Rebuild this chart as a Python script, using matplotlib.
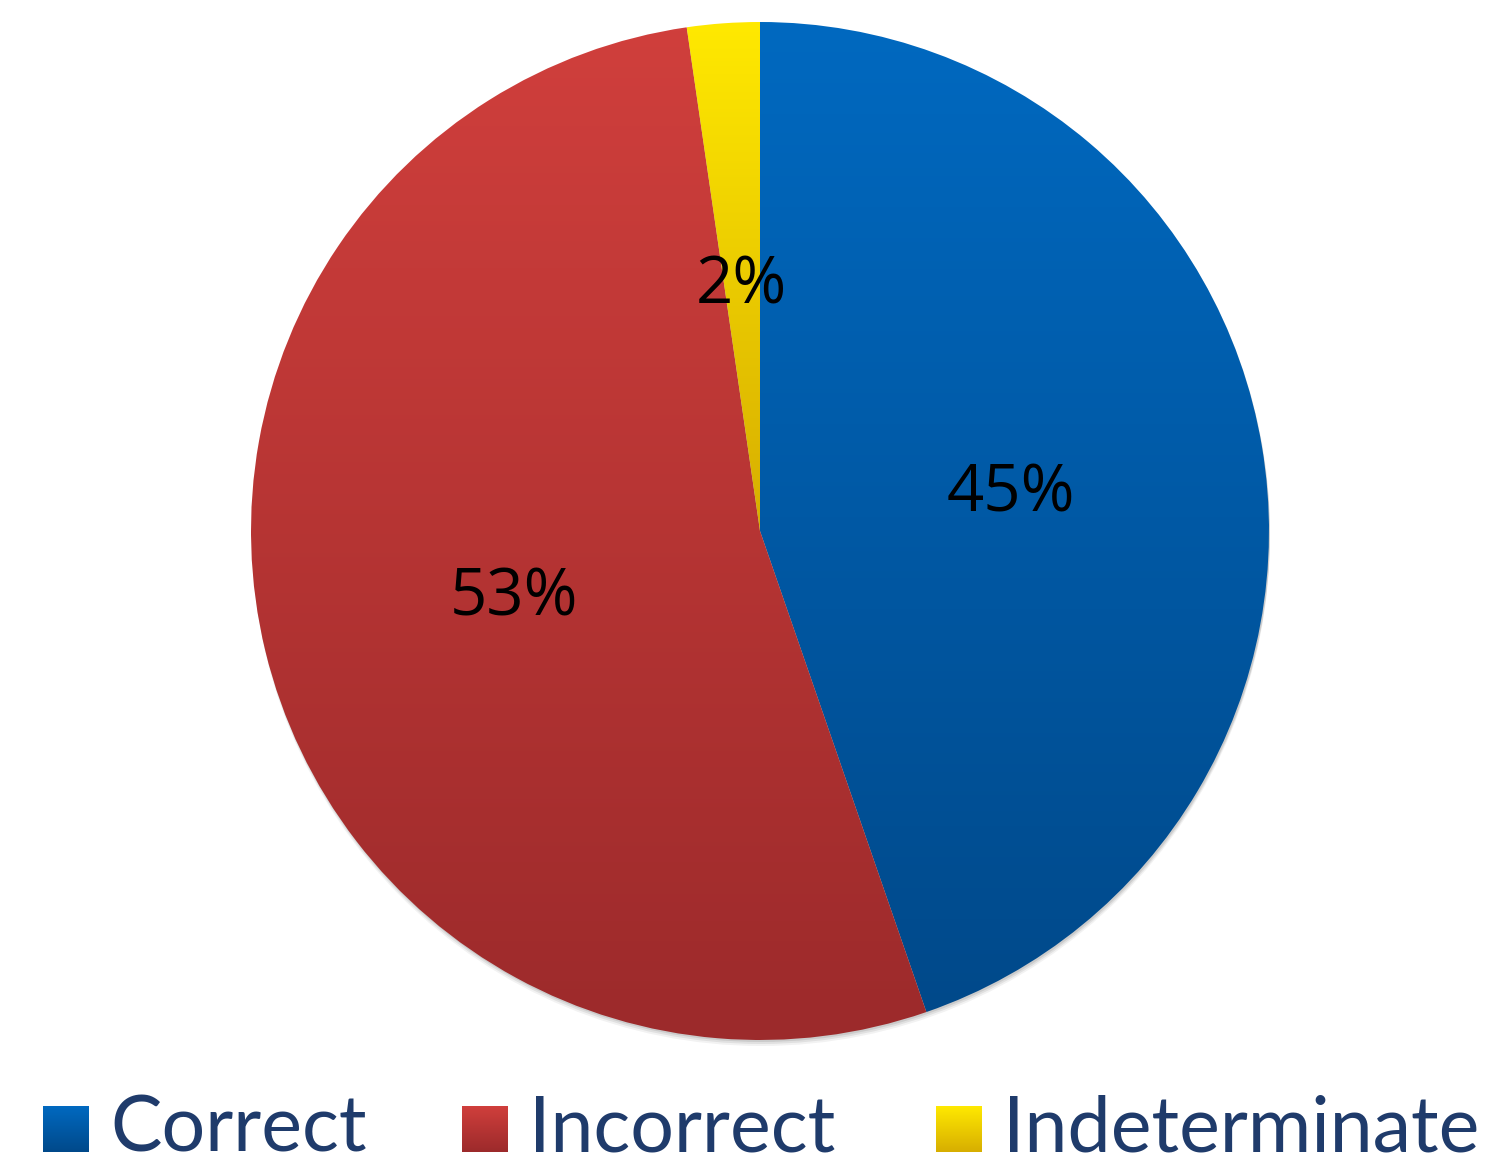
import numpy as np
import matplotlib.pyplot as plt
from matplotlib.colors import LinearSegmentedColormap
from matplotlib.patches import Circle, Rectangle

labels = ['Correct', 'Incorrect', 'Indeterminate']
shares = [44.7, 53.0, 2.3]
pct_text = ['45%', '53%', '2%']
top_colors = ['#0069C0', '#D03F3C', '#FFE900']
bottom_colors = ['#00498A', '#9C2A2B', '#D7AE00']

W, H = 1507, 1166
fig = plt.figure(figsize=(W / 100, H / 100), dpi=100)
ax = fig.add_axes([0, 0, 1, 1])

cx, cy, r = 760, H - 531, 509

# soft shadow under the pie
for k, a in [(6, 0.05), (4, 0.07), (2, 0.09)]:
    ax.add_patch(Circle((cx + 1, cy - k), r, color='#000000', alpha=a, lw=0, zorder=0))

wedges, _ = ax.pie(shares, startangle=90, counterclock=False, center=(cx, cy),
                   radius=r, frame=True, wedgeprops=dict(lw=0))
ax.set_xlim(0, W)
ax.set_ylim(0, H)
ax.set_aspect('equal')
ax.axis('off')


def grad_fill(patch, c_top, c_bot, zorder=2):
    ext = patch.get_path().get_extents(patch.get_patch_transform())
    cmap = LinearSegmentedColormap.from_list('g', [c_bot, c_top])
    g = np.linspace(0, 1, 256).reshape(-1, 1)
    im = ax.imshow(g, cmap=cmap, origin='lower', aspect='auto',
                   extent=[ext.x0, ext.x1, ext.y0, ext.y1], zorder=zorder)
    im.set_clip_path(patch)
    patch.set_facecolor('none')


for w, ct, cb in zip(wedges, top_colors, bottom_colors):
    grad_fill(w, ct, cb)

# percentage labels
label_pos = [(1011, 495), (514, 598), (741, 286)]
for (x, y), t in zip(label_pos, pct_text):
    ax.text(x, H - y, t, ha='center', va='center', fontsize=47,
            family='Open Sans', color='black', zorder=5)

# legend
leg_x = [43, 462, 936]
for x, lab, ct, cb in zip(leg_x, labels, top_colors, bottom_colors):
    sq = Rectangle((x, H - 1152), 46, 46, lw=0)
    ax.add_patch(sq)
    grad_fill(sq, ct, cb)
    ax.text(x + 67, H - 1152, lab, ha='left', va='baseline', fontsize=55.5,
            family='Lato', color='#1F3B6B', zorder=5)

fig.savefig('out.png', dpi=100)
